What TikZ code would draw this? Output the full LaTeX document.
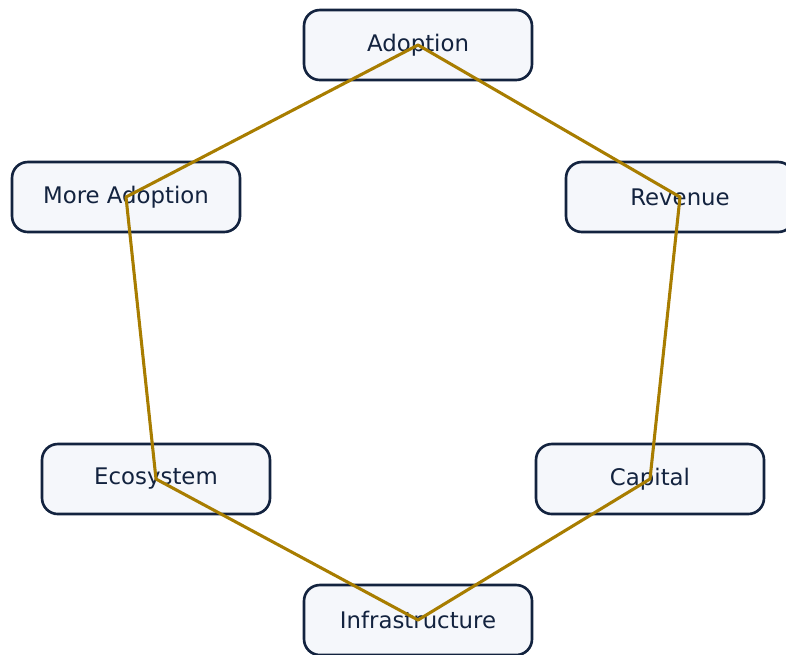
\documentclass[tikz,border=0pt]{standalone}
\usepackage{fontspec}
\setmainfont{DejaVu Sans}
\usepackage{tikz}
\definecolor{LoopNavy}{HTML}{13233F}
\definecolor{LoopFill}{HTML}{F5F7FB}
\definecolor{LoopGold}{HTML}{A87D00}
\begin{document}
\begin{tikzpicture}[x=0.02cm,y=-0.02cm,stage/.style={draw=LoopNavy,line width=1.5pt,rounded corners=9pt,
 fill=LoopFill,text=LoopNavy,minimum width=4.56cm,minimum height=1.4cm,font=\fontsize{13}{15}\selectfont},
 loopline/.style={draw=LoopGold,line width=1.75pt,line join=round}]
\useasboundingbox (0,0) rectangle (786,654);
\node[stage] (adopt) at (418,45) {Adoption};
\node[stage] (rev) at (680,197) {Revenue};
\node[stage] (cap) at (650,479) {Capital};
\node[stage] (infra) at (418,620) {Infrastructure};
\node[stage] (eco) at (156,479) {Ecosystem};
\node[stage] (more) at (126,197) {More Adoption};
\draw[loopline] (adopt.center)--(rev.center)--(cap.center)--(infra.center)--(eco.center)--(more.center)--cycle;
\end{tikzpicture}
\end{document}
